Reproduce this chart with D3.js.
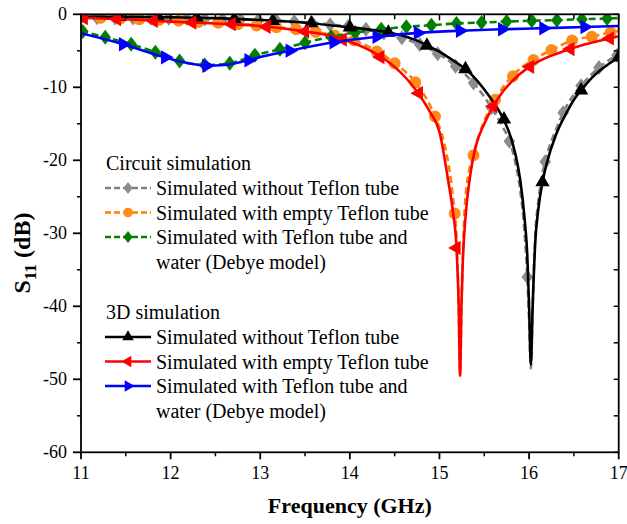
<!DOCTYPE html>
<html><head><meta charset="utf-8">
<script src="https://cdn.jsdelivr.net/npm/d3@7"></script>
<style>body{margin:0;background:#fff}svg{display:block}</style>
</head><body>
<svg id="c" width="627" height="524"></svg>
<script>
// ---------------- DATA ----------------
const xTicks = [11, 12, 13, 14, 15, 16, 17];
const yTicks = [0, -10, -20, -30, -40, -50, -60];
const xLabel = "Frequency (GHz)";
const legendTitles = ["Circuit simulation", "3D simulation"];
const seriesLabels = [
  ["Simulated without Teflon tube"],
  ["Simulated with empty Teflon tube"],
  ["Simulated with Teflon tube and", "water (Debye model)"],
  ["Simulated without Teflon tube"],
  ["Simulated with empty Teflon tube"],
  ["Simulated with Teflon tube and", "water (Debye model)"]
];

// circuit: without Teflon tube (gray)
const grayLine = [[11.0,-0.45],[11.5,-0.5],[12.0,-0.55],[12.5,-0.65],[13.0,-0.8],[13.5,-1.1],[14.0,-1.7],[14.25,-2.2],[14.5,-2.9],[14.75,-4.0],[15.0,-5.5],[15.2,-7.3],[15.4,-9.7],[15.5,-11.3],[15.6,-13.2],[15.7,-15.3],[15.8,-18.0],[15.85,-20.5],[15.9,-24],[15.95,-30],[15.98,-36],[16.0,-42],[16.02,-48.5],[16.04,-40],[16.07,-30],[16.1,-26],[16.15,-21.8],[16.2,-19.2],[16.3,-15.8],[16.4,-13.0],[16.5,-11.0],[16.6,-9.5],[16.7,-8.2],[16.8,-7.1],[16.9,-6.2],[17.0,-5.5]];
const grayMarks = [[11.18,-0.47],[11.38,-0.49],[11.58,-0.51],[11.78,-0.53],[11.98,-0.55],[12.18,-0.59],[12.38,-0.63],[12.58,-0.67],[12.78,-0.72],[12.98,-0.79],[13.18,-0.9],[13.38,-1.02],[13.58,-1.18],[13.78,-1.42],[13.98,-1.68],[14.18,-2.05],[14.38,-2.55],[14.58,-3.2],[14.78,-4.15],[14.98,-5.4],[15.18,-7.1],[15.38,-9.4],[15.58,-12.8],[15.78,-17.4],[15.98,-36],[16.18,-20.2],[16.38,-13.5],[16.58,-9.8],[16.78,-7.3],[16.98,-5.6]];

// circuit: empty Teflon tube (orange)
const orangeLine = [[11.0,-0.4],[11.5,-0.6],[12.0,-0.85],[12.5,-1.15],[13.0,-1.55],[13.5,-2.2],[13.75,-2.7],[14.0,-3.4],[14.25,-4.7],[14.5,-6.7],[14.75,-9.6],[14.95,-14.0],[15.05,-17.5],[15.1,-20.5],[15.15,-25.0],[15.19,-30.5],[15.21,-38],[15.23,-49],[15.25,-38],[15.28,-27],[15.33,-21.5],[15.38,-19.3],[15.45,-16.2],[15.5,-14.6],[15.62,-11.7],[15.8,-8.6],[16.05,-6.2],[16.25,-4.9],[16.48,-3.6],[16.7,-3.05],[16.9,-2.5],[17.0,-2.3]];
const orangeMarks = [[11.0,-0.4],[11.22,-0.49],[11.44,-0.58],[11.65,-0.67],[11.87,-0.78],[12.09,-0.9],[12.31,-1.04],[12.53,-1.17],[12.75,-1.35],[12.96,-1.52],[13.18,-1.78],[13.4,-2.06],[13.62,-2.44],[13.83,-2.9],[14.05,-3.6],[14.3,-5.1],[14.5,-6.7],[14.73,-9.3],[14.95,-14.0],[15.17,-27.3],[15.38,-19.3],[15.62,-11.7],[15.82,-8.5],[16.05,-6.26],[16.25,-4.9],[16.48,-3.6],[16.7,-3.07],[16.91,-2.5]];

// circuit: Teflon tube and water (green)
const greenLine = [[11.0,-2.3],[11.27,-3.15],[11.56,-4.1],[11.83,-5.2],[12.1,-6.4],[12.38,-6.95],[12.66,-6.7],[12.94,-5.6],[13.22,-4.8],[13.5,-3.9],[13.79,-3.07],[14.06,-2.5],[14.35,-2.05],[14.63,-1.7],[14.91,-1.5],[15.19,-1.25],[15.47,-1.12],[15.75,-1.0],[16.03,-0.88],[16.31,-0.8],[16.59,-0.68],[16.87,-0.57],[17.0,-0.52]];
const greenMarks = [[11.02,-2.35],[11.27,-3.15],[11.56,-4.1],[11.83,-5.2],[12.1,-6.4],[12.38,-6.95],[12.66,-6.7],[12.94,-5.6],[13.22,-4.8],[13.5,-3.9],[13.79,-3.07],[14.06,-2.5],[14.35,-2.05],[14.63,-1.7],[14.91,-1.5],[15.19,-1.25],[15.47,-1.12],[15.75,-1.0],[16.03,-0.88],[16.31,-0.8],[16.59,-0.68],[16.87,-0.57]];

// 3D: without Teflon tube (black)
const blackLine = [[11.0,-0.3],[11.5,-0.35],[12.0,-0.4],[12.5,-0.52],[13.0,-0.78],[13.5,-1.15],[14.0,-1.8],[14.25,-2.15],[14.5,-2.65],[14.75,-3.6],[14.9,-4.5],[15.0,-5.1],[15.1,-5.9],[15.2,-6.7],[15.3,-7.6],[15.4,-8.8],[15.5,-10.3],[15.6,-12.0],[15.7,-14.0],[15.8,-17.0],[15.85,-19.3],[15.9,-22.6],[15.95,-28.0],[15.98,-33],[16.0,-40],[16.02,-48],[16.04,-40],[16.07,-31],[16.1,-27],[16.15,-23.0],[16.2,-20.3],[16.3,-16.5],[16.4,-13.9],[16.5,-11.7],[16.6,-10.1],[16.7,-8.7],[16.8,-7.6],[16.9,-6.7],[17.0,-5.9]];
const blackMarks = [[11.0,-0.3],[11.43,-0.34],[11.86,-0.38],[12.29,-0.46],[12.71,-0.62],[13.14,-0.88],[13.57,-1.22],[14.0,-1.8],[14.43,-2.5],[14.86,-4.3],[15.29,-7.5],[15.72,-14.4],[16.15,-23.0],[16.58,-10.4],[17.0,-5.9]];

// 3D: empty Teflon tube (red)
const redLine = [[11.0,-0.5],[11.5,-0.68],[12.0,-1.0],[12.5,-1.25],[13.0,-1.6],[13.5,-2.35],[13.75,-2.85],[14.0,-3.75],[14.25,-5.1],[14.5,-7.2],[14.75,-10.6],[14.9,-13.5],[15.0,-16.1],[15.1,-23],[15.15,-27],[15.19,-32],[15.215,-40],[15.23,-49.5],[15.245,-40],[15.26,-34],[15.28,-29.5],[15.3,-26.5],[15.35,-21.5],[15.4,-18.3],[15.5,-15.0],[15.6,-12.6],[15.7,-10.7],[15.8,-9.3],[16.0,-7.2],[16.2,-5.9],[16.4,-5.0],[16.6,-4.2],[16.8,-3.6],[17.0,-3.0]];
const redMarks = [[11.03,-0.5],[11.4,-0.64],[11.81,-0.88],[12.24,-1.12],[12.68,-1.35],[13.07,-1.7],[13.5,-2.35],[13.92,-3.46],[14.34,-5.85],[14.77,-10.8],[15.19,-32],[15.6,-12.6],[16.01,-7.2],[16.46,-4.76],[16.9,-3.3]];

// 3D: Teflon tube and water (blue)
const blueLine = [[11.0,-2.6],[11.47,-4.1],[11.94,-5.9],[12.2,-6.7],[12.4,-7.04],[12.6,-6.95],[12.87,-6.3],[13.05,-5.7],[13.33,-4.98],[13.82,-3.84],[14.3,-3.07],[14.76,-2.55],[15.23,-2.25],[15.7,-2.05],[16.16,-1.9],[16.62,-1.75],[17.0,-1.6]];
const blueMarks = [[11.47,-4.1],[11.94,-5.9],[12.4,-7.04],[12.87,-6.3],[13.33,-4.98],[13.82,-3.84],[14.3,-3.07],[14.76,-2.55],[15.23,-2.25],[15.7,-2.05],[16.16,-1.9],[16.62,-1.75]];

// ---------------- CHART ----------------
const svg = d3.select("#c");
const m = {l: 81, r: 618.7, t: 14.3, b: 452.3};
const x = d3.scaleLinear().domain([11, 17]).range([m.l, m.r]);
const y = d3.scaleLinear().domain([0, -60]).range([m.t, m.b]);
const FONT = "'Liberation Serif','Times New Roman',serif";

const series = [
  {line: grayLine, marks: grayMarks, color: "#808080", mcolor: "#8c8c8c", dash: "7,4", sym: "diamond"},
  {line: orangeLine, marks: orangeMarks, color: "#ff8000", mcolor: "#ff8c1a", dash: "7,4", sym: "circle"},
  {line: greenLine, marks: greenMarks, color: "#007f00", mcolor: "#007f00", dash: "7,4", sym: "diamond"},
  {line: blackLine, marks: blackMarks, color: "#000000", mcolor: "#000000", dash: null, sym: "up"},
  {line: redLine, marks: redMarks, color: "#ff0000", mcolor: "#ff0000", dash: null, sym: "left"},
  {line: blueLine, marks: blueMarks, color: "#0000ff", mcolor: "#0000ff", dash: null, sym: "right"}
];

function symPath(sym) {
  if (sym === "diamond") return "M0,-7.5L5.8,0L0,7.5L-5.8,0Z";
  if (sym === "circle") return d3.symbol(d3.symbolCircle, 113)();
  return d3.symbol(d3.symbolTriangle, 90)();
}
function symRot(sym) {
  return sym === "left" ? -90 : sym === "right" ? 90 : 0;
}

svg.append("defs").append("clipPath").attr("id", "pc")
  .append("rect").attr("x", m.l).attr("y", m.t).attr("width", m.r - m.l).attr("height", m.b - m.t);

const lineGen = d3.line().x(d => x(d[0])).y(d => y(d[1])).curve(d3.curveMonotoneX);
const plot = svg.append("g").attr("clip-path", "url(#pc)");

series.forEach(s => {
  const g = plot.append("g");
  g.append("path").datum(s.line).attr("d", lineGen)
    .attr("fill", "none").attr("stroke", s.color).attr("stroke-width", 2.6)
    .attr("stroke-dasharray", s.dash);
  g.selectAll(null).data(s.marks).enter().append("path")
    .attr("d", symPath(s.sym)).attr("fill", s.mcolor)
    .attr("transform", d => `translate(${x(d[0])},${y(d[1])}) rotate(${symRot(s.sym)})`);
});

// axes
const ax = svg.append("g").attr("stroke", "#000").attr("fill", "none");
ax.append("rect").attr("x", m.l).attr("y", m.t).attr("width", m.r - m.l).attr("height", m.b - m.t)
  .attr("stroke-width", 1.8);
const xMinor = d3.range(11.5, 17, 1);
const yMinor = d3.range(-5, -60, -10);
xTicks.forEach(v => ax.append("line").attr("x1", x(v)).attr("x2", x(v)).attr("y1", m.b).attr("y2", m.b + 7).attr("stroke-width", 1.8));
xMinor.forEach(v => ax.append("line").attr("x1", x(v)).attr("x2", x(v)).attr("y1", m.b).attr("y2", m.b + 4).attr("stroke-width", 1.5));
xTicks.forEach(v => ax.append("line").attr("x1", x(v)).attr("x2", x(v)).attr("y1", m.t).attr("y2", m.t + 6).attr("stroke-width", 1.5));
xMinor.forEach(v => ax.append("line").attr("x1", x(v)).attr("x2", x(v)).attr("y1", m.t).attr("y2", m.t + 5).attr("stroke-width", 1.5));
yTicks.forEach(v => ax.append("line").attr("x1", m.l - 8).attr("x2", m.l).attr("y1", y(v)).attr("y2", y(v)).attr("stroke-width", 1.8));
yMinor.forEach(v => ax.append("line").attr("x1", m.l - 4).attr("x2", m.l).attr("y1", y(v)).attr("y2", y(v)).attr("stroke-width", 1.5));
yTicks.concat(yMinor).forEach(v => ax.append("line").attr("x1", m.r - 5).attr("x2", m.r).attr("y1", y(v)).attr("y2", y(v)).attr("stroke-width", 1.5));

const txt = svg.append("g").attr("font-family", FONT).attr("fill", "#000");
xTicks.forEach(v => txt.append("text").attr("x", x(v)).attr("y", 479).attr("text-anchor", "middle")
  .attr("font-size", 18).text(v));
yTicks.forEach(v => txt.append("text").attr("x", 67).attr("y", y(v)).attr("dy", "0.33em").attr("text-anchor", "end")
  .attr("font-size", 18).text(v));
txt.append("text").attr("x", (m.l + m.r) / 2).attr("y", 513).attr("text-anchor", "middle")
  .attr("font-size", 22).attr("font-weight", "bold").text(xLabel);
const yl = txt.append("text").attr("transform", "translate(30,253) rotate(-90)").attr("text-anchor", "middle")
  .attr("font-size", 24).attr("font-weight", "bold");
yl.append("tspan").text("S");
yl.append("tspan").attr("font-size", 17).attr("dy", 6).text("11");
yl.append("tspan").attr("dy", -6).text(" (dB)");

// legend
const lg = svg.append("g").attr("font-family", FONT).attr("font-size", 20);
const groups = [{title: legendTitles[0], base: 170, idx: [0, 1, 2]}, {title: legendTitles[1], base: 319, idx: [3, 4, 5]}];
groups.forEach(g => {
  lg.append("text").attr("x", 106).attr("y", g.base).text(g.title);
  let b = g.base + 25;
  g.idx.forEach(i => {
    const s = series[i];
    const ly = b - 7;
    lg.append("line").attr("x1", 105).attr("x2", 151).attr("y1", ly).attr("y2", ly)
      .attr("stroke", s.color).attr("stroke-width", 2.4).attr("stroke-dasharray", s.dash ? "6,3" : null);
    lg.append("path").attr("d", symPath(s.sym)).attr("fill", s.mcolor)
      .attr("transform", `translate(128,${ly}) rotate(${symRot(s.sym)}) scale(0.8)`);
    seriesLabels[i].forEach((t, k) => {
      lg.append("text").attr("x", 156).attr("y", b + k * 24.5).text(t);
    });
    b += 24.5 * seriesLabels[i].length;
  });
});
</script>
</body></html>
